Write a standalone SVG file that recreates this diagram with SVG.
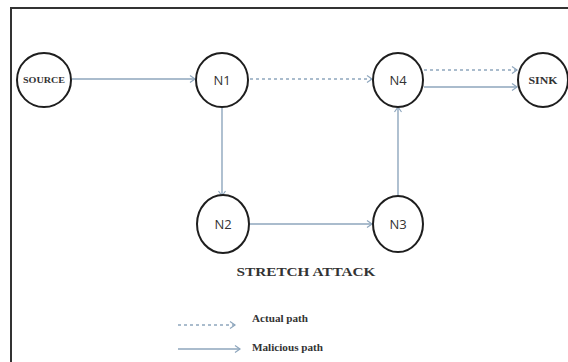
<svg xmlns="http://www.w3.org/2000/svg" width="568" height="362" viewBox="0 0 568 362">
<defs>
<marker id="arr" markerWidth="10" markerHeight="10" refX="7" refY="5" orient="auto" markerUnits="userSpaceOnUse">
<path d="M2,1.5 L7,5 L2,8.5" fill="none" stroke="#8ea6bd" stroke-width="1.2"/>
</marker>
</defs>
<style>
.node{fill:#fff;stroke:#1e1e1e;stroke-width:2}
.lbl{font-family:"Open Sans","DejaVu Sans",sans-serif;font-size:13px;fill:#333;text-anchor:middle;dominant-baseline:central}
.slbl{font-family:"Liberation Serif",serif;font-weight:bold;fill:#333;text-anchor:middle;dominant-baseline:central}
.solid{fill:none;stroke:#8ea6bd;stroke-width:1.4;marker-end:url(#arr)}
.dash{fill:none;stroke:#8ea6bd;stroke-width:1.4;stroke-dasharray:3 3;marker-end:url(#arr)}
.leg{font-family:"Liberation Serif",serif;font-weight:bold;font-size:10px;fill:#333;dominant-baseline:central}
</style>
<rect width="568" height="362" fill="#fff"/>
<path d="M11,362 V8 H568" fill="none" stroke="#333" stroke-width="2"/>
<g id="connectors">
<line class="solid" x1="72" y1="79" x2="195" y2="79"/>
<line class="dash" x1="250" y1="79" x2="372" y2="79"/>
<line class="dash" x1="424" y1="70" x2="517" y2="70"/>
<line class="solid" x1="424" y1="87" x2="517" y2="87"/>
<line class="solid" x1="222" y1="108" x2="222" y2="196"/>
<line class="solid" x1="250" y1="224" x2="372" y2="224"/>
<line class="solid" x1="398" y1="196" x2="398" y2="107"/>
</g>
<g id="SOURCE"><ellipse class="node" cx="44" cy="80" rx="27" ry="27"/><text class="slbl" x="44" y="80" font-size="8.5" textLength="42" lengthAdjust="spacingAndGlyphs">SOURCE</text></g>
<g id="N1"><ellipse class="node" cx="222" cy="80" rx="26" ry="27"/><text class="lbl" x="222" y="80">N1</text></g>
<g id="N4"><ellipse class="node" cx="398" cy="80" rx="25" ry="27"/><text class="lbl" x="398" y="80">N4</text></g>
<g id="SINK"><ellipse class="node" cx="543" cy="80" rx="25" ry="27"/><text class="slbl" x="543" y="80" font-size="10" textLength="29" lengthAdjust="spacingAndGlyphs">SINK</text></g>
<g id="N2"><ellipse class="node" cx="223" cy="224" rx="26" ry="29"/><text class="lbl" x="223" y="224">N2</text></g>
<g id="N3"><ellipse class="node" cx="398" cy="224" rx="25" ry="28"/><text class="lbl" x="398" y="224">N3</text></g>
<text x="306" y="276" font-family="Liberation Serif,serif" font-weight="bold" font-size="13.5" fill="#333" text-anchor="middle" textLength="139" lengthAdjust="spacingAndGlyphs">STRETCH ATTACK</text>
<g id="legend">
<line class="dash" x1="178" y1="325" x2="235" y2="325"/>
<line class="solid" x1="178" y1="349" x2="240" y2="349"/>
<text class="leg" x="252" y="318" textLength="56" lengthAdjust="spacingAndGlyphs">Actual path</text>
<text class="leg" x="252" y="347" textLength="71" lengthAdjust="spacingAndGlyphs">Malicious path</text>
</g>
</svg>
